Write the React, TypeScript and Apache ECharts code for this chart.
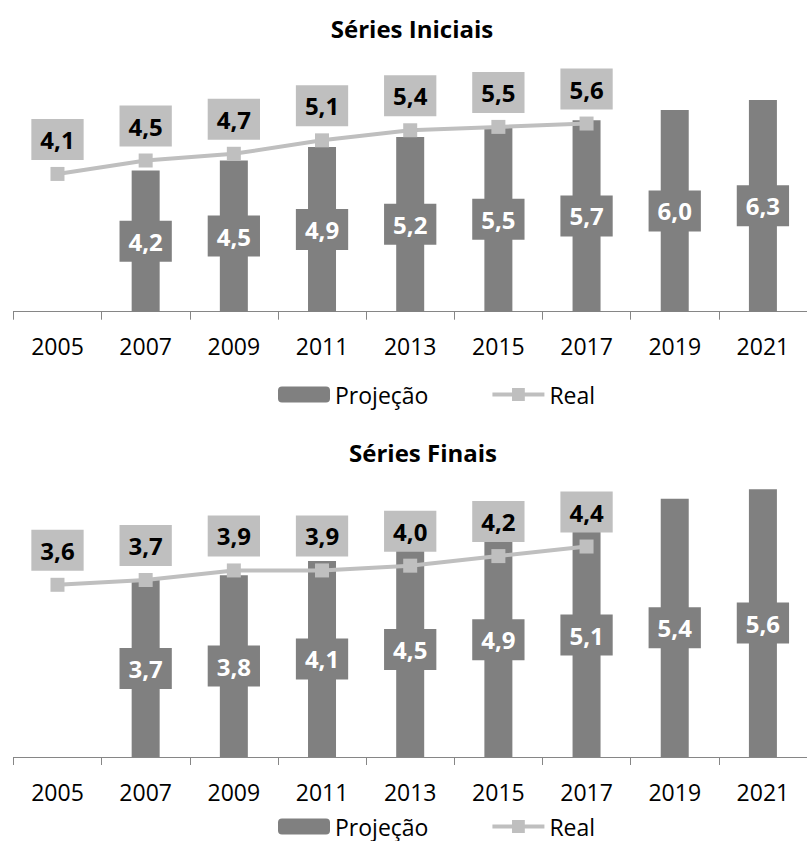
import React, { useEffect, useRef } from "react";
import * as echarts from "echarts";

const categories = ["2005", "2007", "2009", "2011", "2013", "2015", "2017", "2019", "2021"];
const iniciaisProjecao = [null, 4.2, 4.5, 4.9, 5.2, 5.5, 5.7, 6.0, 6.3];
const iniciaisReal = [4.1, 4.5, 4.7, 5.1, 5.4, 5.5, 5.6, null, null];
const finaisProjecao = [null, 3.7, 3.8, 4.1, 4.5, 4.9, 5.1, 5.4, 5.6];
const finaisReal = [3.6, 3.7, 3.9, 3.9, 4.0, 4.2, 4.4, null, null];
const titles = ["Séries Iniciais", "Séries Finais"];
const legendNames = ["Projeção", "Real"];

const FONT = "'Open Sans', sans-serif";
const BAR = "#808080";
const LINE = "#bfbfbf";

const fmt = (p: any) => {
  const v = Array.isArray(p.value) ? p.value[1] : p.value;
  return v == null ? "" : Number(v).toFixed(1).replace(".", ",");
};

const barLabel = {
  show: true,
  position: "inside",
  formatter: fmt,
  color: "#fff",
  fontWeight: "bold",
  fontSize: 24,
  fontFamily: FONT,
  lineHeight: 25,
  backgroundColor: BAR,
  padding: [8, 9, 8, 9],
};

const lineLabel = {
  show: true,
  position: "top",
  distance: 7,
  formatter: fmt,
  color: "#000",
  fontWeight: "bold",
  fontSize: 24,
  fontFamily: FONT,
  lineHeight: 25,
  backgroundColor: LINE,
  padding: [8, 9, 8, 9],
};

function makeAxis(gridIndex: number) {
  return {
    type: "category",
    gridIndex,
    data: categories,
    boundaryGap: true,
    axisLine: { show: true, lineStyle: { color: "#868686", width: 1 } },
    axisTick: { show: true, alignWithLabel: false, length: 8, lineStyle: { color: "#868686" } },
    axisLabel: { color: "#000", fontSize: 23, fontFamily: FONT, margin: 23, interval: 0 },
  };
}

function makeLegend(top: number) {
  return {
    left: 273, top, itemWidth: 52, itemHeight: 16, itemGap: 62,
    data: legendNames,
    lineStyle: { width: 4 },
    textStyle: { fontSize: 23, color: "#000", fontFamily: FONT },
  };
}

export default function App() {
  const ref = useRef<HTMLDivElement>(null);
  useEffect(() => {
    if (!ref.current) return;
    const chart = echarts.init(ref.current, null, { renderer: "svg" });
    const option: any = {
      animation: false,
      textStyle: { fontFamily: FONT },
      title: [
        { text: titles[0], left: 407, top: 11, textAlign: "center", textStyle: { fontSize: 24, fontWeight: "bold", color: "#000", fontFamily: FONT } },
        { text: titles[1], left: 418, top: 435, textAlign: "center", textStyle: { fontSize: 24, fontWeight: "bold", color: "#000", fontFamily: FONT } },
      ],
      legend: [makeLegend(378), makeLegend(810)],
      grid: [
        { left: 13.4, right: -9.9, top: 76.5, height: 235.2 },
        { left: 13.4, right: -9.9, top: 470, height: 287 },
      ],
      xAxis: [makeAxis(0), makeAxis(1)],
      yAxis: [
        { type: "value", gridIndex: 0, min: 0, max: 7, show: false, splitLine: { show: false } },
        { type: "value", gridIndex: 1, min: 0, max: 6, show: false, splitLine: { show: false } },
      ],
      series: [
        {
          type: "bar", name: legendNames[0], xAxisIndex: 0, yAxisIndex: 0, data: iniciaisProjecao,
          barWidth: 28, itemStyle: { color: BAR }, label: barLabel, z: 2,
        },
        {
          type: "line", name: legendNames[1], xAxisIndex: 0, yAxisIndex: 0, data: iniciaisReal,
          symbol: "rect", symbolSize: 14, lineStyle: { color: LINE, width: 4 }, itemStyle: { color: LINE },
          label: lineLabel, z: 3,
        },
        {
          type: "bar", name: legendNames[0], xAxisIndex: 1, yAxisIndex: 1, data: finaisProjecao,
          barWidth: 28, itemStyle: { color: BAR }, label: barLabel, z: 2,
        },
        {
          type: "line", name: legendNames[1], xAxisIndex: 1, yAxisIndex: 1, data: finaisReal,
          symbol: "rect", symbolSize: 14, lineStyle: { color: LINE, width: 4 }, itemStyle: { color: LINE },
          label: lineLabel, z: 3,
        },
      ],
    };
    chart.setOption(option);
    return () => chart.dispose();
  }, []);
  return (
    <div
      ref={ref}
      style={{ position: "absolute", left: 0, top: 0, width: 807, height: 841, background: "#fff" }}
    />
  );
}
